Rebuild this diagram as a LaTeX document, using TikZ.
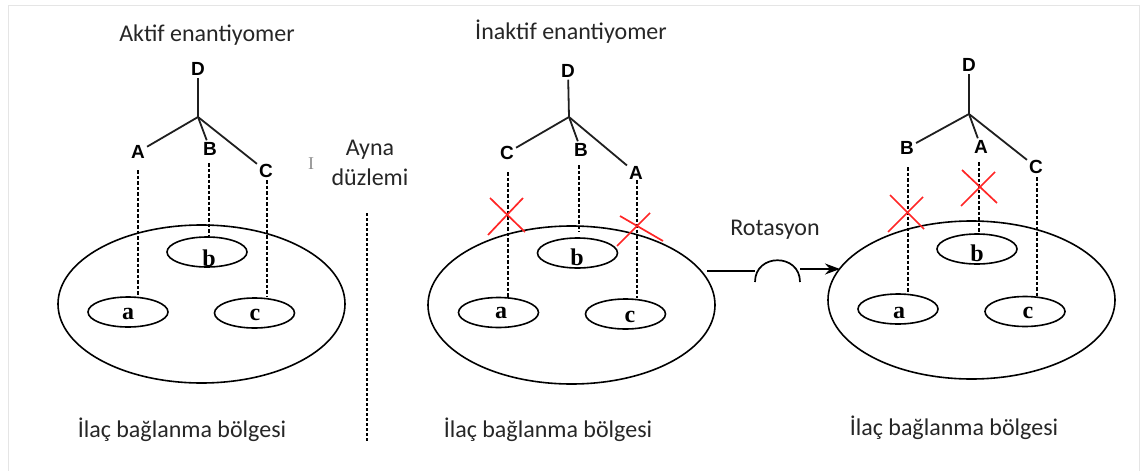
\documentclass[tikz,border=0pt]{standalone}
\usepackage{fontspec}
\setmainfont{Carlito}
\newfontfamily\arialf{Liberation Sans}
\newfontfamily\tnrf{Liberation Serif}
\usetikzlibrary{shapes.geometric,arrows.meta}
\begin{document}
\begin{tikzpicture}[x=1pt,y=-1pt,
  lbl/.style={font=\fontsize{24}{30}\selectfont, text=black!85, align=center},
  grp/.style={font=\arialf\bfseries\fontsize{19}{19}\selectfont, inner sep=2pt},
  site/.style={draw, ellipse, line width=1.6pt, minimum width=80pt, minimum height=30pt, inner sep=0pt},
  sitel/.style={font=\tnrf\bfseries\fontsize{24}{24}\selectfont, inner sep=0pt},
  region/.style={draw, ellipse, line width=1.6pt, minimum width=287pt, minimum height=158pt, inner sep=0pt},
  bond/.style={line width=1.8pt, draw=black!88},
  dsh/.style={line width=1.5pt, dash pattern=on 3.5pt off 2pt},
  cross/.style={draw=red!85, line width=1.7pt}
]
\useasboundingbox (0,0) rectangle (1144,471);
\draw[black!10, line width=1pt] (8,471) -- (8,5) -- (1139,5) -- (1139,471);

% ---------- Panel 1 ----------
\node[lbl] (t1) at (207,35) {Aktif enantiyomer};
\node[grp] (D1) at (198,69) {D};
\coordinate (j1) at (198,117);
\node[grp] (A1) at (138,152) {A};
\node[grp] (B1) at (210,149) {B};
\node[grp] (C1) at (266,171) {C};
\draw[bond] (j1) -- (D1);
\draw[bond] (j1) -- (A1);
\draw[bond] (j1) -- (B1);
\draw[bond] (j1) -- (C1);
\node[region] (R1) at (201.5,304) {};
\node[site] (b1) at (207,252) {};
\node[site] (a1) at (128,312) {};
\node[site] (c1) at (254.5,313) {};
\node[sitel] (b1l) at (209,258) {b};
\node[sitel] (a1l) at (128,314) {a};
\node[sitel] (c1l) at (255,315) {c};
\coordinate (A1d) at (138,170);
\coordinate (B1d) at (209,163);
\coordinate (C1d) at (267,180);
\draw[dsh] (A1d) -- (A1d |- a1.north);
\draw[dsh] (B1d) -- (B1d |- b1.north);
\draw[dsh] (C1d) -- (C1d |- c1.north);
\node[lbl] (g1) at (182,430) {İlaç bağlanma bölgesi};

% ---------- Mirror plane ----------
\node[lbl] (mir) at (370,163) {Ayna\\düzlemi};
\node[text=black!45, font=\tnrf\fontsize{18}{18}\selectfont] (cur) at (311,164) {I};
\coordinate (m1) at (367,213);
\coordinate (m2) at (367,442);
\draw[dsh, dash pattern=on 3pt off 2pt] (m1) -- (m2);

% ---------- Panel 2 ----------
\node[lbl] (t2) at (571,32) {İnaktif enantiyomer};
\node[grp] (D2) at (568,71) {D};
\coordinate (j2) at (569,117);
\node[grp] (C2) at (507,153) {C};
\node[grp] (B2) at (581,150) {B};
\node[grp] (A2) at (636,173) {A};
\draw[bond] (j2) -- (D2);
\draw[bond] (j2) -- (C2);
\draw[bond] (j2) -- (B2);
\draw[bond] (j2) -- (A2);
\node[region] (R2) at (571.5,305) {};
\node[site] (b2) at (577.5,253) {};
\node[site] (a2) at (498.5,312.5) {};
\node[site] (c2) at (625.5,314) {};
\node[sitel] (b2l) at (577,257) {b};
\node[sitel] (a2l) at (501,313) {a};
\node[sitel] (c2l) at (630,317) {c};
\coordinate (C2d) at (508,172);
\coordinate (B2d) at (579,165);
\coordinate (B2e) at (579,232);
\coordinate (A2d) at (637,180);
\draw[dsh] (C2d) -- (C2d |- a2.north);
\draw[dsh] (B2d) -- (B2e);
\draw[dsh] (A2d) -- (A2d |- c2.north);
\draw[cross] (490,198) -- (525,232);
\draw[cross] (523,198) -- (488,235);
\draw[cross] (620,216) -- (663,241);
\draw[cross] (650,213) -- (617,246);
\node[lbl] (g2) at (548,430) {İlaç bağlanma bölgesi};

% ---------- Rotation ----------
\node[lbl] (rot) at (775,230) {Rotasyon};
\coordinate (r0) at (707,271);
\coordinate (r1) at (755,271);
\coordinate (r2) at (755,282);
\coordinate (r3) at (800,282);
\coordinate (r4) at (800,269);
\coordinate (r5) at (840,269);
\draw[line width=1.7pt] (r0) -- (r1);
\draw[line width=1.7pt] (r2) .. controls (755,253) and (800,253) .. (r3);
\draw[line width=1.7pt, -{Stealth[length=15pt,width=11pt]}] (r4) -- (r5);

% ---------- Panel 3 ----------
\node[grp] (D3) at (969,65) {D};
\coordinate (j3) at (969,114);
\node[grp] (B3) at (907,148) {B};
\node[grp] (A3) at (981,147) {A};
\node[grp] (C3) at (1036,167) {C};
\draw[bond] (j3) -- (D3);
\draw[bond] (j3) -- (B3);
\draw[bond] (j3) -- (A3);
\draw[bond] (j3) -- (C3);
\node[region] (R3) at (971.5,300) {};
\node[site] (b3) at (977,249) {};
\node[site] (a3) at (898,309) {};
\node[site] (c3) at (1025,311.5) {};
\node[sitel] (b3l) at (977,253) {b};
\node[sitel] (a3l) at (899,313) {a};
\node[sitel] (c3l) at (1028,313) {c};
\coordinate (B3d) at (908,167);
\coordinate (A3d) at (979,162);
\coordinate (C3d) at (1037,177);
\draw[dsh] (B3d) -- (B3d |- a3.north);
\draw[dsh] (A3d) -- (A3d |- b3.north);
\draw[dsh] (C3d) -- (C3d |- c3.north);
\draw[cross] (890,195) -- (924,229);
\draw[cross] (923,197) -- (888,232);
\draw[cross] (962,170) -- (997,203);
\draw[cross] (995,172) -- (961,206);
\node[lbl] (g3) at (954,428) {İlaç bağlanma bölgesi};
\end{tikzpicture}
\end{document}
